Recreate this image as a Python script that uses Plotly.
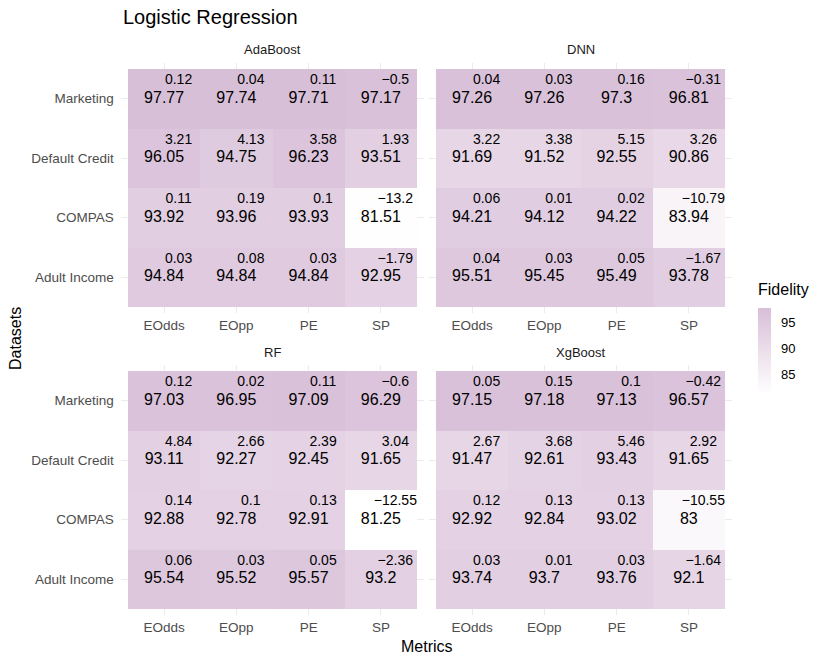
import plotly.graph_objects as go
from plotly.subplots import make_subplots

title_text = "Logistic Regression"
models = ["AdaBoost", "DNN", "RF", "XgBoost"]
metrics = ["EOdds", "EOpp", "PE", "SP"]
datasets = ["Adult Income", "COMPAS", "Default Credit", "Marketing"]  # bottom -> top

# Fidelity values: rows follow `datasets` order, columns follow `metrics`
fid_adaboost = [[94.84, 94.84, 94.84, 92.95],
                [93.92, 93.96, 93.93, 81.51],
                [96.05, 94.75, 96.23, 93.51],
                [97.77, 97.74, 97.71, 97.17]]
dlt_adaboost = [[0.03, 0.08, 0.03, -1.79],
                [0.11, 0.19, 0.1, -13.2],
                [3.21, 4.13, 3.58, 1.93],
                [0.12, 0.04, 0.11, -0.5]]
fid_dnn = [[95.51, 95.45, 95.49, 93.78],
           [94.21, 94.12, 94.22, 83.94],
           [91.69, 91.52, 92.55, 90.86],
           [97.26, 97.26, 97.3, 96.81]]
dlt_dnn = [[0.04, 0.03, 0.05, -1.67],
           [0.06, 0.01, 0.02, -10.79],
           [3.22, 3.38, 5.15, 3.26],
           [0.04, 0.03, 0.16, -0.31]]
fid_rf = [[95.54, 95.52, 95.57, 93.2],
          [92.88, 92.78, 92.91, 81.25],
          [93.11, 92.27, 92.45, 91.65],
          [97.03, 96.95, 97.09, 96.29]]
dlt_rf = [[0.06, 0.03, 0.05, -2.36],
          [0.14, 0.1, 0.13, -12.55],
          [4.84, 2.66, 2.39, 3.04],
          [0.12, 0.02, 0.11, -0.6]]
fid_xgb = [[93.74, 93.7, 93.76, 92.1],
           [92.92, 92.84, 93.02, 83.0],
           [91.47, 92.61, 93.43, 91.65],
           [97.15, 97.18, 97.13, 96.57]]
dlt_xgb = [[0.03, 0.01, 0.03, -1.64],
           [0.12, 0.13, 0.13, -10.55],
           [2.67, 3.68, 5.46, 2.92],
           [0.05, 0.15, 0.1, -0.42]]

fidelity = [fid_adaboost, fid_dnn, fid_rf, fid_xgb]
deltas = [dlt_adaboost, dlt_dnn, dlt_rf, dlt_xgb]
colorbar_ticks = [85, 90, 95]

W, H = 830, 664

# ---- Lab interpolated gradient white -> thistle (like ggplot scale_fill_gradient)
def srgb_to_lin(c):
    c = c / 255.0
    return c / 12.92 if c <= 0.04045 else ((c + 0.055) / 1.055) ** 2.4

def lin_to_srgb(c):
    c = max(0.0, min(1.0, c))
    v = 12.92 * c if c <= 0.0031308 else 1.055 * c ** (1 / 2.4) - 0.055
    return int(round(v * 255))

def rgb_to_lab(rgb):
    r, g, b = [srgb_to_lin(v) for v in rgb]
    X = 0.4124 * r + 0.3576 * g + 0.1805 * b
    Y = 0.2126 * r + 0.7152 * g + 0.0722 * b
    Z = 0.0193 * r + 0.1192 * g + 0.9505 * b
    Xn, Yn, Zn = 0.95047, 1.0, 1.08883
    def f(t):
        return t ** (1 / 3) if t > 216 / 24389 else (24389 / 27 * t + 16) / 116
    fx, fy, fz = f(X / Xn), f(Y / Yn), f(Z / Zn)
    return (116 * fy - 16, 500 * (fx - fy), 200 * (fy - fz))

def lab_to_rgb(lab):
    L, a, bb = lab
    fy = (L + 16) / 116
    fx = fy + a / 500
    fz = fy - bb / 200
    def finv(t):
        return t ** 3 if t ** 3 > 216 / 24389 else (116 * t - 16) / (24389 / 27)
    Xn, Yn, Zn = 0.95047, 1.0, 1.08883
    X, Y, Z = Xn * finv(fx), Yn * finv(fy), Zn * finv(fz)
    r = 3.2406 * X - 1.5372 * Y - 0.4986 * Z
    g = -0.9689 * X + 1.8758 * Y + 0.0415 * Z
    b = 0.0557 * X - 0.2040 * Y + 1.0570 * Z
    return (lin_to_srgb(r), lin_to_srgb(g), lin_to_srgb(b))

low_lab = rgb_to_lab((255, 255, 255))
high_lab = rgb_to_lab((216, 191, 216))
colorscale = []
for i in range(11):
    t = i / 10
    lab = tuple(low_lab[k] + (high_lab[k] - low_lab[k]) * t for k in range(3))
    r, g, b = lab_to_rgb(lab)
    colorscale.append([t, f"rgb({r},{g},{b})"])

all_vals = [v for m in fidelity for row in m for v in row]
cmin, cmax = min(all_vals), max(all_vals)

fig = make_subplots(rows=2, cols=2)

def fmt(v):
    return f"{v:g}".replace("-", "\u2212")

xs = list(range(len(metrics)))
ys = list(range(len(datasets)))

for idx, name in enumerate(models):
    r, c = idx // 2 + 1, idx % 2 + 1
    z = fidelity[idx]
    fig.add_trace(go.Heatmap(z=z, x=xs, y=ys, coloraxis="coloraxis",
                             hoverinfo="skip", xgap=0, ygap=0), row=r, col=c)
    bx, by, bt, sx, sy, st = [], [], [], [], [], []
    for yi in ys:
        for xi in xs:
            bx.append(xi); by.append(yi); bt.append(fmt(z[yi][xi]))
            sx.append(xi + 0.2); sy.append(yi + 0.3); st.append(fmt(deltas[idx][yi][xi]))
    fig.add_trace(go.Scatter(x=bx, y=by, text=bt, mode="text", showlegend=False,
                             hoverinfo="skip",
                             textfont=dict(size=16, color="black", family="Liberation Sans")),
                  row=r, col=c)
    fig.add_trace(go.Scatter(x=sx, y=sy, text=st, mode="text", showlegend=False,
                             hoverinfo="skip",
                             textfont=dict(size=14, color="black", family="Liberation Sans")),
                  row=r, col=c)

# panel geometry (pixels)
tile_x = [(128, 417), (436, 725)]
tile_y = [(69, 307), (371, 609)]

def xdom(i):
    a, b = tile_x[i]
    u = (b - a) / 4
    return [(a - 0.1 * u) / W, (b + 0.1 * u) / W]

def ydom(i):
    a, b = tile_y[i]
    u = (b - a) / 4
    return [1 - (b + 0.1 * u) / H, 1 - (a - 0.1 * u) / H]

axis_font = dict(size=13.5, color="#4D4D4D", family="Liberation Sans")
for idx in range(4):
    r, c = idx // 2, idx % 2
    fig.update_xaxes(domain=xdom(c), range=[-0.6, 3.6], tickvals=xs, ticktext=metrics,
                     showgrid=True, gridcolor="#EBEBEB", gridwidth=1.1, zeroline=False,
                     ticks="", tickfont=axis_font, showline=False, fixedrange=True,
                     ticklabelstandoff=3,
                     row=r + 1, col=c + 1)
    fig.update_yaxes(domain=ydom(r), range=[-0.6, 3.6], tickvals=ys,
                     ticktext=datasets if c == 0 else [""] * 4,
                     showticklabels=(c == 0),
                     showgrid=True, gridcolor="#EBEBEB", gridwidth=1.1, zeroline=False,
                     ticks="", tickfont=axis_font, showline=False, fixedrange=True,
                     ticklabelstandoff=6,
                     row=r + 1, col=c + 1)

annotations = []
strip_font = dict(size=13, color="#1A1A1A", family="Liberation Sans")
strip_y = [49, 352]
for idx, name in enumerate(models):
    r, c = idx // 2, idx % 2
    d = xdom(c)
    annotations.append(dict(text=name, x=(d[0] + d[1]) / 2, y=1 - strip_y[r] / H,
                            xref="paper", yref="paper", showarrow=False,
                            xanchor="center", yanchor="middle", font=strip_font))
annotations.append(dict(text="Metrics", x=(xdom(0)[0] + xdom(1)[1]) / 2, y=1 - 646 / H,
                        xref="paper", yref="paper", showarrow=False,
                        xanchor="center", yanchor="middle",
                        font=dict(size=16, color="black", family="Liberation Sans")))
annotations.append(dict(text="Datasets", x=15 / W, y=(ydom(0)[1] + ydom(1)[0]) / 2,
                        xref="paper", yref="paper", showarrow=False, textangle=-90,
                        xanchor="center", yanchor="middle",
                        font=dict(size=16, color="black", family="Liberation Sans")))
annotations.append(dict(text=title_text, x=121 / W, y=1 - 17 / H,
                        xref="paper", yref="paper", showarrow=False,
                        xanchor="left", yanchor="middle",
                        font=dict(size=20, color="black", family="Liberation Sans")))
annotations.append(dict(text="Fidelity", x=756 / W, y=1 - 289 / H,
                        xref="paper", yref="paper", showarrow=False,
                        xanchor="left", yanchor="middle",
                        font=dict(size=16, color="black", family="Liberation Sans")))

fig.update_layout(
    width=W, height=H,
    margin=dict(l=0, r=0, t=0, b=0, autoexpand=False),
    paper_bgcolor="white", plot_bgcolor="white",
    font=dict(family="Liberation Sans"),
    annotations=annotations,
    coloraxis=dict(
        colorscale=colorscale, cmin=cmin, cmax=cmax,
        colorbar=dict(
            tickvals=colorbar_ticks, ticks="outside", tickcolor="rgba(0,0,0,0)", ticklen=8,
            tickfont=dict(size=13, color="#000000", family="Liberation Sans"),
            thickness=13, thicknessmode="pixels",
            len=86, lenmode="pixels",
            x=758 / W, xanchor="left", y=1 - 351 / H, yanchor="middle",
            outlinewidth=0, xpad=0, ypad=0,
        ),
    ),
)

fig.write_html("out.html", config={"displayModeBar": False},
               post_script="document.body.style.margin='0px';document.body.style.padding='0px';")
